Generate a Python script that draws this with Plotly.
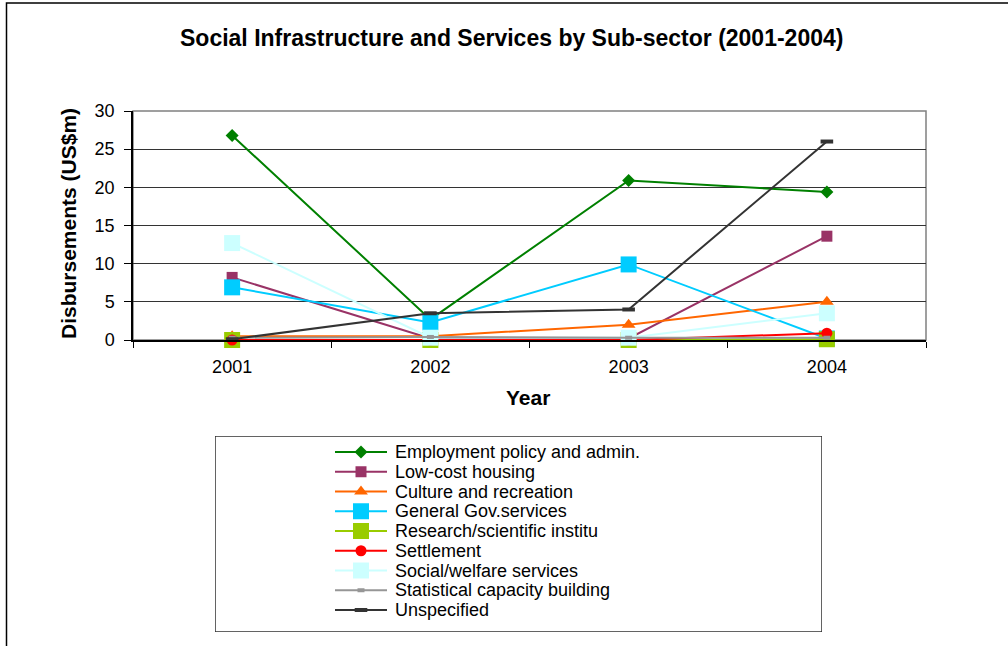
import plotly.graph_objects as go

# ---- data -------------------------------------------------------------
years = ["2001", "2002", "2003", "2004"]

series_names = [
    "Employment policy and admin.",
    "Low-cost housing",
    "Culture and recreation",
    "General Gov.services",
    "Research/scientific institu",
    "Settlement",
    "Social/welfare services",
    "Statistical capacity building",
    "Unspecified",
]

employment = [26.8, 2.7, 20.9, 19.4]
low_cost_housing = [8.2, 0.2, 0.2, 13.6]
culture = [0.5, 0.5, 2.0, 5.0]
general_gov = [6.9, 2.3, 9.9, 0.2]
research = [0.0, 0.0, 0.0, 0.1]
settlement = [0.0, 0.0, 0.0, 0.9]
social_welfare = [12.7, 0.3, 0.3, 3.5]
statistical = [0.3, 0.4, 0.3, 0.3]
unspecified = [0.1, 3.5, 4.0, 26.0]

series_values = [employment, low_cost_housing, culture, general_gov, research,
                 settlement, social_welfare, statistical, unspecified]

# ---- styles -----------------------------------------------------------
colors = ["#008000", "#993366", "#FF6600", "#00CCFF", "#99CC00",
          "#FF0000", "#CCFFFF", "#969696", "#333333"]
symbols = ["diamond", "square", "triangle-up", "square", "square",
           "circle", "square", "line-ew", "line-ew"]
sizes = [10, 11, 12, 16, 16, 11, 16, 5, 9]

FONT = "Liberation Sans, Arial, sans-serif"
W, H = 1008, 646


def px(x):
    return x / W


def py(y):
    return 1 - y / H


def marker_style(sym, size, color):
    if sym == "line-ew":
        return dict(symbol=sym, size=size, color=color,
                    line=dict(color=color, width=4))
    return dict(symbol=sym, size=size, color=color, line=dict(width=0))


fig = go.Figure()

# main series
for name, vals, c, sym, s in zip(series_names, series_values, colors, symbols, sizes):
    fig.add_trace(go.Scatter(
        x=years, y=vals, name=name, mode="lines+markers",
        line=dict(color=c, width=2),
        marker=marker_style(sym, s, c),
        showlegend=False, cliponaxis=False,
        xaxis="x", yaxis="y",
    ))

# legend box contents (drawn on a pixel-scaled helper axis pair)
LX0, LX1, LY0, LY1 = 215, 822, 436, 632
row0, row_step = 452, 19.75
annotations = []
for i, (name, c, sym, s) in enumerate(zip(series_names, colors, symbols, sizes)):
    ry = row0 + i * row_step
    fig.add_trace(go.Scatter(
        x=[335, 387], y=[ry, ry], mode="lines",
        line=dict(color=c, width=2), showlegend=False, hoverinfo="skip",
        xaxis="x2", yaxis="y2", cliponaxis=False,
    ))
    fig.add_trace(go.Scatter(
        x=[361], y=[ry], mode="markers",
        marker=marker_style(sym, s, c), showlegend=False, hoverinfo="skip",
        xaxis="x2", yaxis="y2", cliponaxis=False,
    ))
    annotations.append(dict(
        x=393, y=ry, xref="x2", yref="y2", text=name, showarrow=False,
        xanchor="left", yanchor="middle",
        font=dict(family=FONT, size=18, color="black"),
    ))

annotations += [
    dict(x=px(511), y=py(38), xref="paper", yref="paper", showarrow=False,
         text="<b>Social Infrastructure and Services by Sub-sector (2001-2004)</b>",
         xanchor="center", yanchor="middle",
         font=dict(family=FONT, size=23, color="black")),
    dict(x=px(528), y=py(397), xref="paper", yref="paper", showarrow=False,
         text="<b>Year</b>", xanchor="center", yanchor="middle",
         font=dict(family=FONT, size=21, color="black")),
    dict(x=px(68), y=py(224), xref="paper", yref="paper", showarrow=False,
         text="<b>Disbursements (US$m)</b>", textangle=-90,
         xanchor="center", yanchor="middle",
         font=dict(family=FONT, size=21, color="black")),
]

shapes = [
    # outer chart frame
    dict(type="rect", xref="paper", yref="paper",
         x0=px(6.5), x1=px(1015), y0=py(653), y1=py(3),
         line=dict(color="black", width=1.5), layer="below"),
    # plot area border
    dict(type="rect", xref="paper", yref="paper",
         x0=px(133), x1=px(926), y0=py(340), y1=py(111),
         line=dict(color="#808080", width=1.5), layer="below"),
    # legend frame
    dict(type="rect", xref="x2", yref="y2",
         x0=LX0, x1=LX1, y0=LY0, y1=LY1,
         line=dict(color="#303030", width=1.5), layer="below"),
]

fig.update_layout(
    template="none",
    width=W, height=H,
    margin=dict(l=0, r=0, t=0, b=0),
    paper_bgcolor="white", plot_bgcolor="white",
    font=dict(family=FONT, color="black"),
    showlegend=False,
    xaxis=dict(
        domain=[px(133), px(926)], anchor="y", type="category",
        range=[-0.5, 3.5], tickson="boundaries",
        ticks="outside", ticklen=6, tickcolor="black", tickwidth=1,
        showline=True, linecolor="black", linewidth=1.5,
        showgrid=False, zeroline=False,
        tickfont=dict(family=FONT, size=18, color="black"),
        ticklabelstandoff=10, automargin=False,
    ),
    yaxis=dict(
        domain=[py(340), py(111)], anchor="x",
        range=[0, 30], dtick=5, tick0=0,
        ticks="outside", ticklen=7, tickcolor="black", tickwidth=1,
        showline=True, linecolor="black", linewidth=1.5,
        showgrid=True, gridcolor="#333333", gridwidth=1,
        zeroline=False,
        tickfont=dict(family=FONT, size=18, color="black"),
        ticklabelstandoff=6, automargin=False,
    ),
    xaxis2=dict(domain=[px(LX0), px(LX1)], anchor="y2", range=[LX0, LX1],
                visible=False, fixedrange=True),
    yaxis2=dict(domain=[py(LY1), py(LY0)], anchor="x2", range=[LY1, LY0],
                visible=False, fixedrange=True),
    annotations=annotations,
    shapes=shapes,
)

fig.write_html("out.html")
